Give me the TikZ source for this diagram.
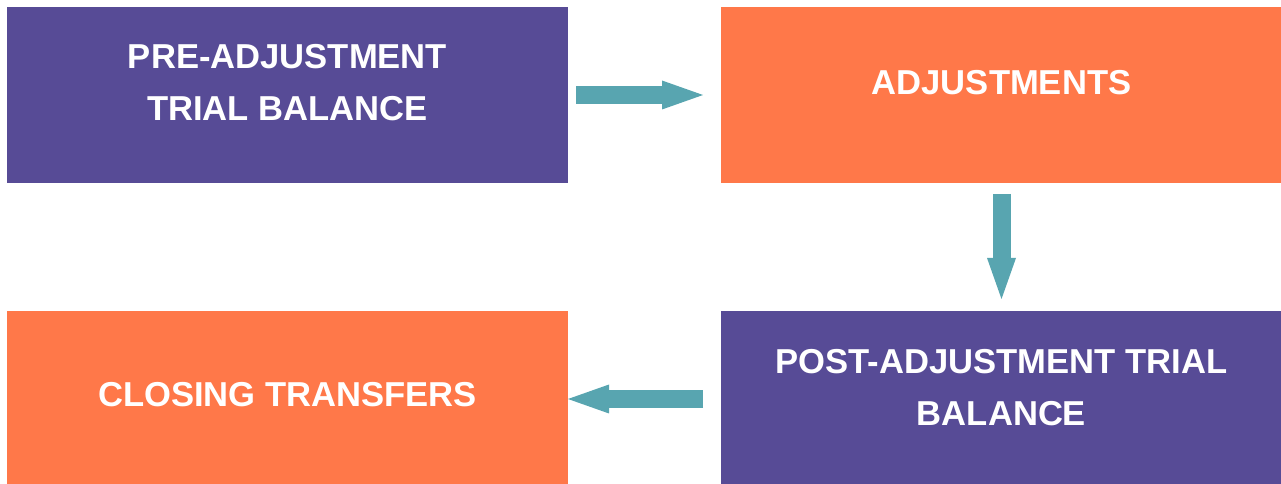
\documentclass[tikz,border=0pt]{standalone}
\usepackage{fontspec}
\setmainfont{Liberation Sans}
\usetikzlibrary{arrows.meta,positioning}
\definecolor{boxpurple}{RGB}{87,75,150}
\definecolor{boxorange}{RGB}{255,120,73}
\definecolor{flowteal}{RGB}{88,165,176}

\begin{document}
\begin{tikzpicture}[
    x=1pt, y=1pt, node distance=153pt,
    box/.style={minimum width=561pt, minimum height=176pt, inner sep=0pt, outer sep=0pt},
    txt/.style={text=white, align=center, font=\bfseries\fontsize{34.6}{52}\selectfont},
    flow/.style={draw=flowteal, line width=18pt,
      -{Triangle[width=29pt, length=41pt, line width=0pt]}},
  ]
  \useasboundingbox (0,0) rectangle (1281,484);

  \node[box, fill=boxpurple] (pre) at (287.5,389) {};
  \node[box, fill=boxorange, right=of pre] (adj) {};
  \node[box, fill=boxpurple, below=128pt of adj, minimum height=173pt] (post) {};
  \node[box, fill=boxorange, left=of post, minimum height=173pt] (clo) {};

  \node[txt, yshift=12pt] (pre-t) at (pre) {PRE-ADJUSTMENT\\TRIAL BALANCE};
  \node[txt, yshift=12.5pt] (adj-t) at (adj) {ADJUSTMENTS};
  \node[txt, yshift=9.5pt] (post-t) at (post) {POST-ADJUSTMENT TRIAL\\BALANCE};
  \node[txt, yshift=2.5pt] (clo-t) at (clo) {CLOSING TRANSFERS};

  \draw[flow, shorten <=8pt, shorten >=18pt] (pre) -- (adj);
  \draw[flow, shorten <=11pt, shorten >=12pt] (adj) -- (post);
  \draw[flow, shorten <=18pt] ([yshift=-1.5pt]post.west) -- ([yshift=-1.5pt]clo.east);

\end{tikzpicture}
\end{document}
